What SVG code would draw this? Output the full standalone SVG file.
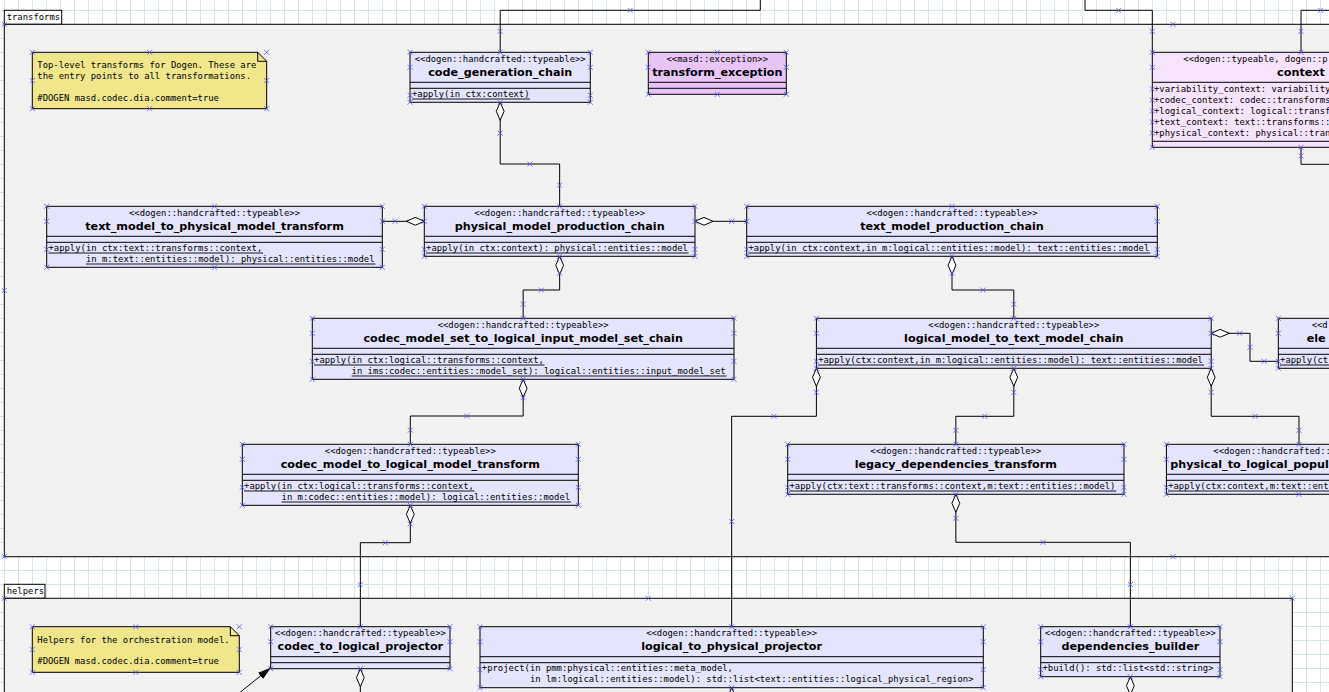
<svg xmlns="http://www.w3.org/2000/svg" xmlns:xlink="http://www.w3.org/1999/xlink" width="1329" height="692" viewBox="0 0 1329 692">
<style>
.cls{fill:#e4e4fc;stroke:#000;stroke-width:1}
.exc{fill:#e8c5f7;stroke:#000;stroke-width:1}
.ctx{fill:#f6e4fc;stroke:#000;stroke-width:1}
.sep{fill:none;stroke:#000;stroke-width:1}
.ul{fill:none;stroke:#000;stroke-width:0.9}
.st{font-family:"DejaVu Sans Mono","Liberation Mono",monospace;font-size:8.9px;text-anchor:middle;fill:#000}
.nm{font-family:"DejaVu Sans","Liberation Sans",sans-serif;font-weight:bold;font-size:11.2px;text-anchor:middle;fill:#000}
.mono{font-family:"DejaVu Sans Mono","Liberation Mono",monospace;font-size:8.9px;fill:#000}
.lft{text-anchor:start}
.conn{fill:none;stroke:#000;stroke-width:1}
.note{fill:#f0e68c;stroke:#000;stroke-width:1}
.pkg{fill:#f2f2f2;stroke:#000;stroke-width:1}
.tab{fill:#fff;stroke:#000;stroke-width:1}
</style>
<defs>
<pattern id="grid" x="4" y="10" width="14" height="14" patternUnits="userSpaceOnUse"><path d="M0.5,0V14M0,0.5H14" fill="none" stroke="#d4e5e3" stroke-width="1"/></pattern>
<path id="hx" d="M-2.5,-2.5L2.5,2.5M-2.5,2.5L2.5,-2.5" fill="none" stroke="#5050ff" stroke-width="0.8"/>
<marker id="dia" markerUnits="userSpaceOnUse" markerWidth="20" markerHeight="10" refX="1" refY="5" orient="auto" viewBox="0 0 20 10"><path d="M1,5L10,1.1L19,5L10,8.9Z" fill="#fff" stroke="#000" stroke-width="1"/></marker>
<marker id="arr" markerUnits="userSpaceOnUse" markerWidth="14" markerHeight="9" refX="13" refY="4.5" orient="auto" viewBox="0 0 14 9"><path d="M0,0.5L13,4.5L0,8.5Z" fill="#000"/></marker>
</defs>
<rect x="0" y="0" width="1329" height="692" fill="#fff"/>
<rect x="0" y="0" width="1329" height="692" fill="url(#grid)"/>

<g id="pkg-transforms">
<rect class="tab" x="4.3" y="10.3" width="57.4" height="14"/>
<text class="mono" x="6.7" y="19.7">transforms</text>
<rect class="pkg" x="4.3" y="24.3" width="2340" height="532.4"/>
<use href="#hx" x="4.3" y="24.3"/><use href="#hx" x="1173" y="24.3"/><use href="#hx" x="4.3" y="290.5"/><use href="#hx" x="4.3" y="556.7"/><use href="#hx" x="1173" y="556.7"/>
</g>
<g id="pkg-helpers">
<rect class="tab" x="4.3" y="584.3" width="40.7" height="14"/>
<text class="mono" x="6.7" y="593.8">helpers</text>
<rect class="pkg" x="4.3" y="598.3" width="1288" height="200"/>
<use href="#hx" x="4.3" y="598.3"/><use href="#hx" x="648.3" y="598.3"/><use href="#hx" x="1292.3" y="598.3"/>
</g>

<g id="connectors" class="conn">
<path d="M500.2,52.3V10.3H760.3V-2"/>
<path d="M1152.3,52.3V10.3H1085V-2"/>
<path d="M1301,52.3V10.3H1340"/>
<path d="M1301,147.3V164.3H1340"/>
<path marker-start="url(#dia)" d="M500.2,102.3V164H559.65V206.3"/>
<path marker-start="url(#dia)" d="M424.3,221.3H382.3"/>
<path marker-start="url(#dia)" d="M695,221.3H746.7"/>
<path marker-start="url(#dia)" d="M559.65,256.3V290H523.15V318.3"/>
<path marker-start="url(#dia)" d="M952,256.3V290H1013.8V318.3"/>
<path marker-start="url(#dia)" d="M523.15,379.3V416H410.3V444.3"/>
<path marker-start="url(#dia)" d="M816.4,368.3V416.3H731.65V626.7"/>
<path marker-start="url(#dia)" d="M1013.8,368.3V416.3H955.85V444.3"/>
<path marker-start="url(#dia)" d="M1211.2,368.3V416.3H1299V444.3"/>
<path marker-start="url(#dia)" d="M1211.2,333.3H1250V361.3H1278.3"/>
<path marker-start="url(#dia)" d="M410.3,505.3V542.7H360.35V626.7"/>
<path marker-start="url(#dia)" d="M955.85,494.3V542.3H1130.35V626.7"/>
<path marker-start="url(#dia)" d="M360.35,668.7V700"/>
<path marker-start="url(#dia)" d="M731.65,687.7V710"/>
<path marker-start="url(#dia)" d="M1130.35,676.7V710"/>
<path marker-end="url(#arr)" d="M238,694L270.7,667.7"/>
<use href="#hx" x="500.2" y="31.3"/><use href="#hx" x="630.2" y="10.3"/><use href="#hx" x="1118.6" y="10.3"/><use href="#hx" x="1152.3" y="31.3"/><use href="#hx" x="1301" y="31.3"/><use href="#hx" x="1320.5" y="10.3"/><use href="#hx" x="1301" y="155.8"/>
<use href="#hx" x="500.2" y="133.2"/><use href="#hx" x="529.9" y="164"/><use href="#hx" x="559.65" y="185.2"/>
<use href="#hx" x="395" y="221.3"/><use href="#hx" x="731.7" y="221.3"/>
<use href="#hx" x="559.65" y="273.2"/><use href="#hx" x="541.4" y="290"/><use href="#hx" x="523.15" y="304.2"/>
<use href="#hx" x="952" y="273.2"/><use href="#hx" x="982.9" y="290"/><use href="#hx" x="1013.8" y="304.2"/>
<use href="#hx" x="523.15" y="397.7"/><use href="#hx" x="466.7" y="416"/><use href="#hx" x="410.3" y="430.2"/>
<use href="#hx" x="816.4" y="392.3"/><use href="#hx" x="774" y="416.3"/><use href="#hx" x="731.65" y="521.5"/>
<use href="#hx" x="1013.8" y="392.3"/><use href="#hx" x="984.8" y="416.3"/><use href="#hx" x="955.85" y="430.3"/>
<use href="#hx" x="1211.2" y="392.3"/><use href="#hx" x="1255.1" y="416.3"/><use href="#hx" x="1299" y="430.3"/>
<use href="#hx" x="1239.6" y="333.3"/><use href="#hx" x="1250" y="347.3"/><use href="#hx" x="1264.2" y="361.3"/>
<use href="#hx" x="410.3" y="524"/><use href="#hx" x="385.3" y="542.7"/><use href="#hx" x="360.35" y="584.7"/>
<use href="#hx" x="955.85" y="518.3"/><use href="#hx" x="1043.1" y="542.3"/><use href="#hx" x="1130.35" y="584.5"/>
</g>

<g id="note-transforms">
<path class="note" d="M32.3,52.3H257.7L266.7,61.3V108.7H32.3Z"/>
<path class="sep" d="M257.7,52.3V61.3H266.7"/>
<text class="mono" x="37.3" y="68.4">Top-level transforms for Dogen. These are</text>
<text class="mono" x="37.3" y="79.4">the entry points to all transformations.</text>
<text class="mono" x="37.3" y="101.4">#DOGEN masd.codec.dia.comment=true</text>
<use href="#hx" x="32.3" y="52.3"/><use href="#hx" x="149.5" y="52.3"/><use href="#hx" x="266.7" y="52.3"/><use href="#hx" x="32.3" y="80.5"/><use href="#hx" x="266.7" y="80.5"/><use href="#hx" x="32.3" y="108.7"/><use href="#hx" x="149.5" y="108.7"/><use href="#hx" x="266.7" y="108.7"/>
</g>

<g id="code_generation_chain">
<rect class="cls" x="410" y="52.3" width="180.3" height="50"/>
<path class="sep" d="M410,82.3H590.3M410,88.3H590.3"/>
<text class="st" x="500.2" y="61.7">&lt;&lt;dogen::handcrafted::typeable&gt;&gt;</text>
<text class="nm" x="500.2" y="75.5">code_generation_chain</text>
<text class="mono" x="412" y="96.8">+apply(in ctx:context)</text>
<path class="ul" d="M412,99H530"/>
<use href="#hx" x="410" y="52.3"/><use href="#hx" x="500.2" y="52.3"/><use href="#hx" x="590.3" y="52.3"/><use href="#hx" x="410" y="67.3"/><use href="#hx" x="590.3" y="67.3"/><use href="#hx" x="410" y="95.3"/><use href="#hx" x="590.3" y="95.3"/><use href="#hx" x="410" y="102.3"/><use href="#hx" x="500.2" y="102.3"/><use href="#hx" x="590.3" y="102.3"/>
</g>

<g id="transform_exception">
<rect class="exc" x="648.3" y="52.3" width="138" height="42"/>
<path class="sep" d="M648.3,82.3H786.3M648.3,88.3H786.3"/>
<text class="st" x="717.3" y="61.7">&lt;&lt;masd::exception&gt;&gt;</text>
<text class="nm" x="717.3" y="75.5">transform_exception</text>
<use href="#hx" x="648.3" y="52.3"/><use href="#hx" x="717.3" y="52.3"/><use href="#hx" x="786.3" y="52.3"/><use href="#hx" x="648.3" y="67.3"/><use href="#hx" x="786.3" y="67.3"/><use href="#hx" x="648.3" y="94.3"/><use href="#hx" x="717.3" y="94.3"/><use href="#hx" x="786.3" y="94.3"/>
</g>

<g id="context">
<rect class="ctx" x="1152.3" y="52.3" width="298" height="95"/>
<path class="sep" d="M1152.3,82.3H1450.3M1152.3,141.3H1450.3"/>
<text class="st lft" x="1183.3" y="61.7">&lt;&lt;dogen::typeable, dogen::p</text>
<text class="nm" x="1301" y="75.5">context</text>
<text class="mono" x="1154" y="91.6">+variability_context: variability</text>
<text class="mono" x="1154" y="102.6">+codec_context: codec::transforms</text>
<text class="mono" x="1154" y="113.6">+logical_context: logical::transf</text>
<text class="mono" x="1154" y="124.6">+text_context: text::transforms::</text>
<text class="mono" x="1154" y="135.6">+physical_context: physical::tran</text>
<use href="#hx" x="1152.3" y="52.3"/><use href="#hx" x="1301" y="52.3"/><use href="#hx" x="1152.3" y="67.3"/><use href="#hx" x="1152.3" y="89"/><use href="#hx" x="1152.3" y="100"/><use href="#hx" x="1152.3" y="111"/><use href="#hx" x="1152.3" y="122"/><use href="#hx" x="1152.3" y="133"/><use href="#hx" x="1152.3" y="147.3"/><use href="#hx" x="1301" y="147.3"/>
</g>

<g id="text_model_to_physical_model_transform">
<rect class="cls" x="46.7" y="206.3" width="335.6" height="61"/>
<path class="sep" d="M46.7,236.3H382.3M46.7,242.3H382.3"/>
<text class="st" x="214.5" y="215.7">&lt;&lt;dogen::handcrafted::typeable&gt;&gt;</text>
<text class="nm" x="214.5" y="229.5">text_model_to_physical_model_transform</text>
<text class="mono" x="48.5" y="250.8">+apply(in ctx:text::transforms::context,</text>
<text class="mono" x="86" y="261.8">in m:text::entities::model): physical::entities::model</text>
<path class="ul" d="M48.5,253H263M86,264H375.5"/>
<use href="#hx" x="46.7" y="206.3"/><use href="#hx" x="214.5" y="206.3"/><use href="#hx" x="382.3" y="206.3"/><use href="#hx" x="46.7" y="221.3"/><use href="#hx" x="382.3" y="221.3"/><use href="#hx" x="46.7" y="249.3"/><use href="#hx" x="382.3" y="249.3"/><use href="#hx" x="46.7" y="267.3"/><use href="#hx" x="214.5" y="267.3"/><use href="#hx" x="382.3" y="267.3"/>
</g>

<g id="physical_model_production_chain">
<rect class="cls" x="424.3" y="206.3" width="270.7" height="50"/>
<path class="sep" d="M424.3,236.3H695M424.3,242.3H695"/>
<text class="st" x="559.65" y="215.7">&lt;&lt;dogen::handcrafted::typeable&gt;&gt;</text>
<text class="nm" x="559.65" y="229.5">physical_model_production_chain</text>
<text class="mono" x="426.1" y="250.8">+apply(in ctx:context): physical::entities::model</text>
<path class="ul" d="M426.1,253H688.6"/>
<use href="#hx" x="424.3" y="206.3"/><use href="#hx" x="559.65" y="206.3"/><use href="#hx" x="695" y="206.3"/><use href="#hx" x="424.3" y="221.3"/><use href="#hx" x="695" y="221.3"/><use href="#hx" x="424.3" y="249.3"/><use href="#hx" x="695" y="249.3"/><use href="#hx" x="424.3" y="256.3"/><use href="#hx" x="559.65" y="256.3"/><use href="#hx" x="695" y="256.3"/>
</g>

<g id="text_model_production_chain">
<rect class="cls" x="746.7" y="206.3" width="410.6" height="50"/>
<path class="sep" d="M746.7,236.3H1157.3M746.7,242.3H1157.3"/>
<text class="st" x="952" y="215.7">&lt;&lt;dogen::handcrafted::typeable&gt;&gt;</text>
<text class="nm" x="952" y="229.5">text_model_production_chain</text>
<text class="mono" x="748.5" y="250.8">+apply(in ctx:context,in m:logical::entities::model): text::entities::model</text>
<path class="ul" d="M748.5,253H1150.4"/>
<use href="#hx" x="746.7" y="206.3"/><use href="#hx" x="952" y="206.3"/><use href="#hx" x="1157.3" y="206.3"/><use href="#hx" x="746.7" y="221.3"/><use href="#hx" x="1157.3" y="221.3"/><use href="#hx" x="746.7" y="249.3"/><use href="#hx" x="1157.3" y="249.3"/><use href="#hx" x="746.7" y="256.3"/><use href="#hx" x="952" y="256.3"/><use href="#hx" x="1157.3" y="256.3"/>
</g>

<g id="codec_model_set_to_logical_input_model_set_chain">
<rect class="cls" x="312.3" y="318.3" width="421.7" height="61"/>
<path class="sep" d="M312.3,348.3H734M312.3,354.3H734"/>
<text class="st" x="523.15" y="327.7">&lt;&lt;dogen::handcrafted::typeable&gt;&gt;</text>
<text class="nm" x="523.15" y="341.5">codec_model_set_to_logical_input_model_set_chain</text>
<text class="mono" x="314.1" y="362.8">+apply(in ctx:logical::transforms::context,</text>
<text class="mono" x="351.6" y="373.8">in ims:codec::entities::model_set): logical::entities::input_model_set</text>
<path class="ul" d="M314.1,365H544.5M351.6,376H726.7"/>
<use href="#hx" x="312.3" y="318.3"/><use href="#hx" x="523.15" y="318.3"/><use href="#hx" x="734" y="318.3"/><use href="#hx" x="312.3" y="333.3"/><use href="#hx" x="734" y="333.3"/><use href="#hx" x="312.3" y="361.3"/><use href="#hx" x="734" y="361.3"/><use href="#hx" x="312.3" y="379.3"/><use href="#hx" x="523.15" y="379.3"/><use href="#hx" x="734" y="379.3"/>
</g>

<g id="logical_model_to_text_model_chain">
<rect class="cls" x="816.4" y="318.3" width="394.8" height="50"/>
<path class="sep" d="M816.4,348.3H1211.2M816.4,354.3H1211.2"/>
<text class="st" x="1013.8" y="327.7">&lt;&lt;dogen::handcrafted::typeable&gt;&gt;</text>
<text class="nm" x="1013.8" y="341.5">logical_model_to_text_model_chain</text>
<text class="mono" x="818.2" y="362.8">+apply(ctx:context,in m:logical::entities::model): text::entities::model</text>
<path class="ul" d="M818.2,365H1204"/>
<use href="#hx" x="816.4" y="318.3"/><use href="#hx" x="1013.8" y="318.3"/><use href="#hx" x="1211.2" y="318.3"/><use href="#hx" x="816.4" y="333.3"/><use href="#hx" x="1211.2" y="333.3"/><use href="#hx" x="816.4" y="361.3"/><use href="#hx" x="1211.2" y="361.3"/><use href="#hx" x="816.4" y="368.3"/><use href="#hx" x="1013.8" y="368.3"/><use href="#hx" x="1211.2" y="368.3"/>
</g>

<g id="ele_clipped">
<rect class="cls" x="1278.3" y="318.3" width="171.7" height="50"/>
<path class="sep" d="M1278.3,348.3H1450M1278.3,354.3H1450"/>
<text class="st lft" x="1311.7" y="327.7">&lt;&lt;d</text>
<text class="nm lft" x="1306.7" y="341.5">ele</text>
<text class="mono" x="1280.1" y="362.8">+apply(ct</text>
<path class="ul" d="M1280.1,365H1340"/>
<use href="#hx" x="1278.3" y="318.3"/><use href="#hx" x="1278.3" y="333.3"/><use href="#hx" x="1278.3" y="361.3"/><use href="#hx" x="1278.3" y="368.3"/>
</g>

<g id="codec_model_to_logical_model_transform">
<rect class="cls" x="242.3" y="444.3" width="336" height="61"/>
<path class="sep" d="M242.3,474.3H578.3M242.3,480.3H578.3"/>
<text class="st" x="410.3" y="453.7">&lt;&lt;dogen::handcrafted::typeable&gt;&gt;</text>
<text class="nm" x="410.3" y="467.5">codec_model_to_logical_model_transform</text>
<text class="mono" x="244.1" y="488.8">+apply(in ctx:logical::transforms::context,</text>
<text class="mono" x="281.6" y="499.8">in m:codec::entities::model): logical::entities::model</text>
<path class="ul" d="M244.1,491H474.5M281.6,502H570.9"/>
<use href="#hx" x="242.3" y="444.3"/><use href="#hx" x="410.3" y="444.3"/><use href="#hx" x="578.3" y="444.3"/><use href="#hx" x="242.3" y="459.3"/><use href="#hx" x="578.3" y="459.3"/><use href="#hx" x="242.3" y="487.3"/><use href="#hx" x="578.3" y="487.3"/><use href="#hx" x="242.3" y="505.3"/><use href="#hx" x="410.3" y="505.3"/><use href="#hx" x="578.3" y="505.3"/>
</g>

<g id="legacy_dependencies_transform">
<rect class="cls" x="787.7" y="444.3" width="336.3" height="50"/>
<path class="sep" d="M787.7,474.3H1124M787.7,480.3H1124"/>
<text class="st" x="955.85" y="453.7">&lt;&lt;dogen::handcrafted::typeable&gt;&gt;</text>
<text class="nm" x="955.85" y="467.5">legacy_dependencies_transform</text>
<text class="mono" x="789.5" y="488.8">+apply(ctx:text::transforms::context,m:text::entities::model)</text>
<path class="ul" d="M789.5,491H1116.3"/>
<use href="#hx" x="787.7" y="444.3"/><use href="#hx" x="955.85" y="444.3"/><use href="#hx" x="1124" y="444.3"/><use href="#hx" x="787.7" y="459.3"/><use href="#hx" x="1124" y="459.3"/><use href="#hx" x="787.7" y="487.3"/><use href="#hx" x="1124" y="487.3"/><use href="#hx" x="787.7" y="494.3"/><use href="#hx" x="955.85" y="494.3"/><use href="#hx" x="1124" y="494.3"/>
</g>

<g id="physical_to_logical_clipped">
<rect class="cls" x="1166.4" y="444.3" width="265.2" height="50"/>
<path class="sep" d="M1166.4,474.3H1431.6M1166.4,480.3H1431.6"/>
<text class="st lft" x="1213.3" y="453.7">&lt;&lt;dogen::handcrafted::</text>
<text class="nm lft" x="1170.3" y="467.5">physical_to_logical_popul</text>
<text class="mono" x="1168.2" y="488.8">+apply(ctx:context,m:text::ent</text>
<path class="ul" d="M1168.2,491H1340"/>
<use href="#hx" x="1166.4" y="444.3"/><use href="#hx" x="1299" y="444.3"/><use href="#hx" x="1166.4" y="459.3"/><use href="#hx" x="1166.4" y="487.3"/><use href="#hx" x="1166.4" y="494.3"/><use href="#hx" x="1299" y="494.3"/>
</g>

<g id="note-helpers">
<path class="note" d="M32.3,626.7H230.3L239.3,635.7V672.3H32.3Z"/>
<path class="sep" d="M230.3,626.7V635.7H239.3"/>
<text class="mono" x="37.3" y="642.6">Helpers for the orchestration model.</text>
<text class="mono" x="37.3" y="664.4">#DOGEN masd.codec.dia.comment=true</text>
<use href="#hx" x="32.3" y="626.7"/><use href="#hx" x="135.8" y="626.7"/><use href="#hx" x="239.3" y="626.7"/><use href="#hx" x="32.3" y="649.5"/><use href="#hx" x="239.3" y="649.5"/><use href="#hx" x="32.3" y="672.3"/><use href="#hx" x="135.8" y="672.3"/><use href="#hx" x="239.3" y="672.3"/>
</g>

<g id="codec_to_logical_projector">
<rect class="cls" x="270.7" y="626.7" width="179.3" height="42"/>
<path class="sep" d="M270.7,656.7H450M270.7,662.7H450"/>
<text class="st" x="360.35" y="636.1">&lt;&lt;dogen::handcrafted::typeable&gt;&gt;</text>
<text class="nm" x="360.35" y="649.9">codec_to_logical_projector</text>
<use href="#hx" x="270.7" y="626.7"/><use href="#hx" x="360.35" y="626.7"/><use href="#hx" x="450" y="626.7"/><use href="#hx" x="270.7" y="641.7"/><use href="#hx" x="450" y="641.7"/><use href="#hx" x="270.7" y="668.7"/><use href="#hx" x="360.35" y="668.7"/><use href="#hx" x="450" y="668.7"/>
</g>

<g id="logical_to_physical_projector">
<rect class="cls" x="480" y="626.7" width="503.3" height="61"/>
<path class="sep" d="M480,656.7H983.3M480,662.7H983.3"/>
<text class="st" x="731.65" y="636.1">&lt;&lt;dogen::handcrafted::typeable&gt;&gt;</text>
<text class="nm" x="731.65" y="649.9">logical_to_physical_projector</text>
<text class="mono" x="481.8" y="671.2">+project(in pmm:physical::entities::meta_model,</text>
<text class="mono" x="530" y="682.2">in lm:logical::entities::model): std::list&lt;text::entities::logical_physical_region&gt;</text>
<use href="#hx" x="480" y="626.7"/><use href="#hx" x="731.65" y="626.7"/><use href="#hx" x="983.3" y="626.7"/><use href="#hx" x="480" y="641.7"/><use href="#hx" x="983.3" y="641.7"/><use href="#hx" x="480" y="669.7"/><use href="#hx" x="983.3" y="669.7"/><use href="#hx" x="480" y="687.7"/><use href="#hx" x="731.65" y="687.7"/><use href="#hx" x="983.3" y="687.7"/>
</g>

<g id="dependencies_builder">
<rect class="cls" x="1040.7" y="626.7" width="179.3" height="50"/>
<path class="sep" d="M1040.7,656.7H1220M1040.7,662.7H1220"/>
<text class="st" x="1130.35" y="636.1">&lt;&lt;dogen::handcrafted::typeable&gt;&gt;</text>
<text class="nm" x="1130.35" y="649.9">dependencies_builder</text>
<text class="mono" x="1042.5" y="671.2">+build(): std::list&lt;std::string&gt;</text>
<use href="#hx" x="1040.7" y="626.7"/><use href="#hx" x="1130.35" y="626.7"/><use href="#hx" x="1220" y="626.7"/><use href="#hx" x="1040.7" y="641.7"/><use href="#hx" x="1220" y="641.7"/><use href="#hx" x="1040.7" y="669.7"/><use href="#hx" x="1220" y="669.7"/><use href="#hx" x="1040.7" y="676.7"/><use href="#hx" x="1130.35" y="676.7"/><use href="#hx" x="1220" y="676.7"/>
</g>
</svg>
